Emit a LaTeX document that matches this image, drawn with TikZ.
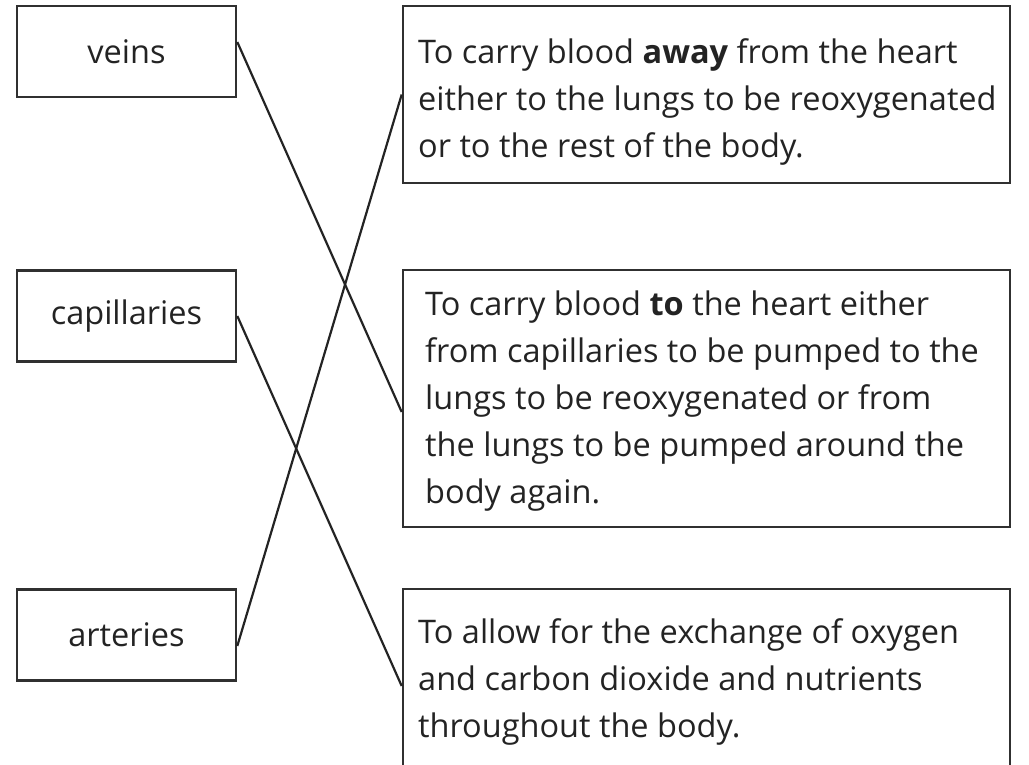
\documentclass[tikz,border=0pt]{standalone}
\usepackage{fontspec}
\setmainfont{Open Sans}
\definecolor{ink}{HTML}{232323}
\definecolor{frame}{HTML}{303030}
\tikzset{
  lbox/.style={draw=frame, line width=2.6pt, minimum width=219pt, minimum height=91pt, inner sep=0pt,
    text=ink, font=\fontsize{32.5}{47}\selectfont},
  rbox/.style={draw=frame, line width=2.6pt, minimum width=607pt, inner sep=0pt},
  rtext/.style={anchor=north west, inner sep=0pt, align=left, text=ink, font=\fontsize{32.5}{47}\selectfont},
  link/.style={draw=ink, line width=2.2pt}
}
\begin{document}
\begin{tikzpicture}[x=1pt,y=-1pt]
\useasboundingbox (0,0) rectangle (1029,765);
% left boxes
\node[lbox] (veins) at (126.5,51.5) {veins};
\node[lbox] (cap) at (126.5,316) {capillaries};
\node[lbox] (art) at (126.5,635) {arteries};
% right boxes
\node[rbox, minimum height=177pt] (b1) at (706.5,94.5) {};
\node[rbox, minimum height=257pt] (b2) at (706.5,398.5) {};
\node[rbox, minimum height=210pt] (b3) at (706.5,694) {};
% texts
\node[rtext] (t1) at (418,38.5) {To carry blood \textbf{away} from the heart\\either to the lungs to be reoxygenated\\or to the rest of the body.};
\node[rtext] (t2) at (425,290.5) {To carry blood \textbf{to} the heart either\\from capillaries to be pumped to the\\lungs to be reoxygenated or from\\the lungs to be pumped around the\\body again.};
\node[rtext] (t3) at (418,618.5) {To allow for the exchange of oxygen\\and carbon dioxide and nutrients\\throughout the body.};
% connectors
\draw[link] ([yshift=9.5pt]veins.east) -- ([yshift=-13.5pt]b2.west);
\draw[link] (cap.east) -- ([yshift=8pt]b3.west);
\draw[link] ([yshift=-11pt]art.east) -- (b1.west);
\end{tikzpicture}
\end{document}
